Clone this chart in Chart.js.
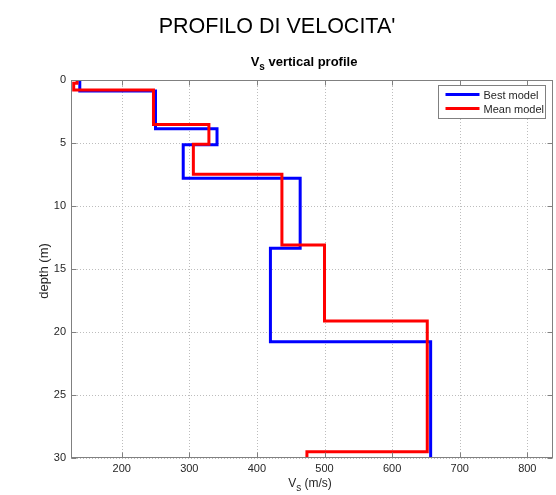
<!DOCTYPE html>
<html><head><meta charset="utf-8">
<script src="https://cdn.jsdelivr.net/npm/chart.js@4.4.0/dist/chart.umd.min.js"></script>
<style>html,body{margin:0;padding:0;background:#fff}</style>
</head><body>
<canvas id="c" width="556" height="495"></canvas>
<script>
// ---- data ----
const seriesLabels = ['Best model', 'Mean model'];
const bestVs    = [138, 250, 341, 291, 464, 420, 657];
const bestDepth = [0, 0.87, 3.87, 5.13, 7.8, 13.36, 20.77, 30];
const meanVs    = [134, 129, 247, 329, 306, 437, 500, 652, 474];
const meanDepth = [0, 0.25, 0.8, 3.54, 5.1, 7.48, 13.1, 19.13, 29.5, 30];
const xTicks = [200, 300, 400, 500, 600, 700, 800];
const yTicks = [0, 5, 10, 15, 20, 25, 30];
const xRange = [125, 838];
const yRange = [0, 30];

function steps(vs, d) {
  const pts = [];
  vs.forEach((v, i) => { pts.push({x: v, y: d[i]}); pts.push({x: v, y: d[i + 1]}); });
  return pts;
}

const FONT = "'Liberation Sans', Arial, Helvetica, sans-serif";
const AXC = '#808080';
const TXT = '#262626';

const deco = {
  id: 'deco',
  beforeDatasetsDraw(chart) {
    const {ctx, chartArea: a, scales: {x, y}} = chart;
    ctx.save();
    ctx.strokeStyle = '#bdbdbd';
    ctx.lineWidth = 1;
    ctx.setLineDash([1, 2]);
    x.ticks.forEach(t => {
      const px = Math.round(x.getPixelForValue(t.value)) + 0.5;
      ctx.beginPath(); ctx.moveTo(px, a.top); ctx.lineTo(px, a.bottom); ctx.stroke();
    });
    y.ticks.forEach(t => {
      const py = Math.round(y.getPixelForValue(t.value)) + 0.5;
      ctx.beginPath(); ctx.moveTo(a.left, py); ctx.lineTo(a.right, py); ctx.stroke();
    });
    ctx.restore();
  },
  afterDatasetsDraw(chart) {
    const {ctx, chartArea: a, scales: {x, y}} = chart;
    ctx.save();
    ctx.strokeStyle = AXC; ctx.lineWidth = 1; ctx.setLineDash([]);
    const L = Math.round(a.left) + 0.5, R = Math.round(a.right) - 0.5;
    const T = Math.round(a.top) + 0.5, B = Math.round(a.bottom) - 0.5;
    ctx.strokeRect(L, T, R - L, B - T);
    const tl = 5;
    x.ticks.forEach(t => {
      const px = Math.round(x.getPixelForValue(t.value)) + 0.5;
      ctx.beginPath();
      ctx.moveTo(px, B); ctx.lineTo(px, B - tl);
      ctx.moveTo(px, T); ctx.lineTo(px, T + tl);
      ctx.stroke();
    });
    y.ticks.forEach(t => {
      const py = Math.round(y.getPixelForValue(t.value)) + 0.5;
      ctx.beginPath();
      ctx.moveTo(L, py); ctx.lineTo(L + tl, py);
      ctx.moveTo(R, py); ctx.lineTo(R - tl, py);
      ctx.stroke();
    });
    // legend
    const lx = 438.5, ly = 85.5, lw = 107, lh = 33;
    ctx.fillStyle = '#fff';
    ctx.fillRect(lx, ly, lw, lh);
    ctx.strokeStyle = AXC;
    ctx.strokeRect(lx, ly, lw, lh);
    ctx.font = '11px ' + FONT;
    ctx.textBaseline = 'middle';
    ctx.textAlign = 'left';
    chart.data.datasets.forEach((ds, i) => {
      const yy = ly + 9 + i * 14;
      ctx.strokeStyle = ds.borderColor;
      ctx.lineWidth = 3;
      ctx.beginPath(); ctx.moveTo(lx + 7, yy); ctx.lineTo(lx + 41, yy); ctx.stroke();
      ctx.fillStyle = TXT;
      ctx.fillText(ds.label, lx + 45, yy + 1);
    });
    ctx.restore();
  },
  afterDraw(chart) {
    const {ctx, chartArea: a} = chart;
    ctx.save();
    ctx.fillStyle = '#000';
    ctx.textBaseline = 'alphabetic';
    ctx.font = '21.5px ' + FONT;
    ctx.textAlign = 'center';
    ctx.fillText("PROFILO DI VELOCITA'", 277, 33);
    ctx.textAlign = 'left';
    const big = 'bold 13px ' + FONT, small = 'bold 10px ' + FONT;
    ctx.font = big; const wV = ctx.measureText('V').width;
    const rest = ' vertical profile'; const wR = ctx.measureText(rest).width;
    ctx.font = small; const wS = ctx.measureText('s').width;
    let sx = 304 - (wV + wS + wR) / 2;
    ctx.font = big; ctx.fillText('V', sx, 66); sx += wV;
    ctx.font = small; ctx.fillText('s', sx, 70); sx += wS;
    ctx.font = big; ctx.fillText(rest, sx, 66);
    ctx.fillStyle = TXT;
    const xb = '12px ' + FONT, xs = '10px ' + FONT;
    ctx.font = xb; const w1 = ctx.measureText('V').width; const r2 = ' (m/s)'; const w3 = ctx.measureText(r2).width;
    ctx.font = xs; const w2 = ctx.measureText('s').width;
    let tx = 310 - (w1 + w2 + w3) / 2;
    ctx.font = xb; ctx.fillText('V', tx, 487); tx += w1;
    ctx.font = xs; ctx.fillText('s', tx, 491); tx += w2;
    ctx.font = xb; ctx.fillText(r2, tx, 487);
    ctx.save();
    ctx.translate(48, (a.top + a.bottom) / 2 + 2);
    ctx.rotate(-Math.PI / 2);
    ctx.textAlign = 'center';
    ctx.font = '13px ' + FONT;
    ctx.fillText('depth (m)', 0, 0);
    ctx.restore();
    ctx.restore();
  }
};

new Chart(document.getElementById('c'), {
  type: 'scatter',
  data: {
    datasets: [
      { label: seriesLabels[0], data: steps(bestVs, bestDepth), showLine: true,
        borderColor: '#0000ff', backgroundColor: '#0000ff', borderWidth: 3,
        pointRadius: 0, pointHoverRadius: 0, borderJoinStyle: 'miter', borderCapStyle: 'butt',
        tension: 0, order: 1 },
      { label: seriesLabels[1], data: steps(meanVs, meanDepth), showLine: true,
        borderColor: '#ff0000', backgroundColor: '#ff0000', borderWidth: 3,
        pointRadius: 0, pointHoverRadius: 0, borderJoinStyle: 'miter', borderCapStyle: 'butt',
        tension: 0, order: 0 }
    ]
  },
  options: {
    responsive: false,
    animation: false,
    devicePixelRatio: 1,
    layout: { padding: { top: 80, right: 3, bottom: 0, left: 0 } },
    plugins: { legend: { display: false }, tooltip: { enabled: false }, title: { display: false } },
    scales: {
      x: {
        type: 'linear', min: xRange[0], max: xRange[1],
        afterBuildTicks: s => { s.ticks = xTicks.map(v => ({value: v})); },
        afterFit: s => { s.height = 37; },
        grid: { display: false, drawTicks: false },
        border: { display: false },
        ticks: { color: TXT, font: { family: FONT, size: 11 }, padding: 4, maxRotation: 0,
                 callback: v => String(v) }
      },
      y: {
        type: 'linear', reverse: true, min: yRange[0], max: yRange[1],
        afterBuildTicks: s => { s.ticks = yTicks.map(v => ({value: v})); },
        afterFit: s => { s.width = 71; },
        grid: { display: false, drawTicks: false },
        border: { display: false },
        ticks: { color: TXT, font: { family: FONT, size: 11 }, padding: 5,
                 callback: v => String(v) }
      }
    }
  },
  plugins: [deco]
});
</script>
</body></html>
